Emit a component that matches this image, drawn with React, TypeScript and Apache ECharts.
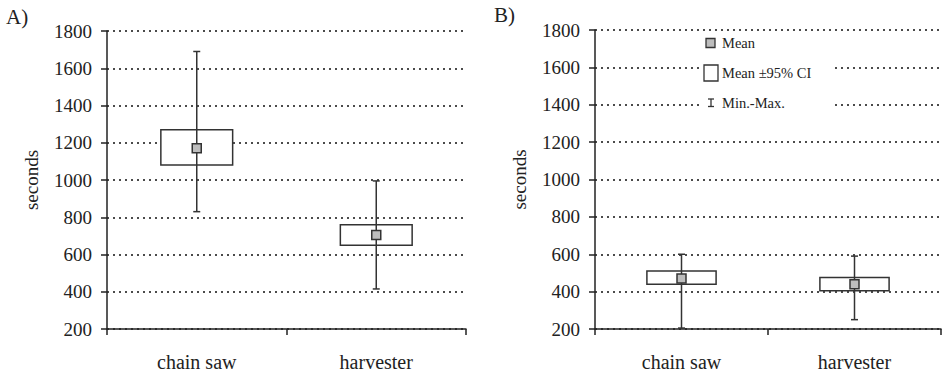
import React, { useEffect, useRef } from "react";
import * as echarts from "echarts";

const categories = ["chain saw", "harvester"];
const yTicks = [200, 400, 600, 800, 1000, 1200, 1400, 1600, 1800];

// Panel A
const aMean = [1170, 705];
const aCiLow = [1080, 650];
const aCiHigh = [1270, 760];
const aMin = [830, 415];
const aMax = [1690, 995];

// Panel B
const bMean = [470, 440];
const bCiLow = [440, 405];
const bCiHigh = [510, 475];
const bMin = [205, 250];
const bMax = [600, 590];

const legendLabels = ["Mean", "Mean ±95% CI", "Min.-Max."];
const panelLabels = ["A)", "B)"];

const SERIF = "Liberation Serif";
const INK = "#222";

function rows(mean: number[], lo: number[], hi: number[], mn: number[], mx: number[]) {
  return categories.map((_, i) => [i, mean[i], lo[i], hi[i], mn[i], mx[i]]);
}

function renderItem(params: any, api: any) {
  const x = api.value(0);
  const pMean = api.coord([x, api.value(1)]);
  const pLo = api.coord([x, api.value(2)]);
  const pHi = api.coord([x, api.value(3)]);
  const pMin = api.coord([x, api.value(4)]);
  const pMax = api.coord([x, api.value(5)]);
  const band = api.size([1, 0])[0];
  const w = band * 0.4;
  const cx = pMean[0];
  const cap = 3.5;
  const st = { stroke: "#333", lineWidth: 1.5 };
  return {
    type: "group",
    children: [
      {
        type: "rect",
        shape: { x: cx - w / 2, y: pHi[1], width: w, height: pLo[1] - pHi[1] },
        style: { fill: "#fff", ...st },
      },
      { type: "line", shape: { x1: cx, y1: pMax[1], x2: cx, y2: pMin[1] }, style: st },
      { type: "line", shape: { x1: cx - cap, y1: pMax[1], x2: cx + cap, y2: pMax[1] }, style: st },
      { type: "line", shape: { x1: cx - cap, y1: pMin[1], x2: cx + cap, y2: pMin[1] }, style: st },
      {
        type: "rect",
        shape: { x: cx - 4.5, y: pMean[1] - 4.5, width: 9, height: 9 },
        style: { fill: "#bdbdbd", ...st },
      },
    ],
  };
}

function yLabelSeries(g: number) {
  return {
    type: "custom",
    xAxisIndex: g,
    yAxisIndex: g,
    silent: true,
    clip: false,
    encode: { x: 0, y: 1 },
    data: yTicks.map((v) => [0, v]),
    renderItem: (params: any, api: any) => {
      const p = api.coord([0, api.value(1)]);
      return {
        type: "text",
        x: params.coordSys.x - 15,
        y: p[1],
        style: {
          text: String(yTicks[params.dataIndex]),
          font: "19px 'Liberation Serif', serif",
          fontSize: 19,
          fontFamily: SERIF,
          fill: INK,
          align: "right",
          verticalAlign: "middle",
        },
      };
    },
  };
}

function xLabelSeries(g: number) {
  return {
    type: "custom",
    xAxisIndex: g,
    yAxisIndex: g,
    silent: true,
    clip: false,
    encode: { x: 0, y: 1 },
    data: categories.map((_, i) => [i, yTicks[0]]),
    renderItem: (params: any, api: any) => {
      const p = api.coord([api.value(0), api.value(1)]);
      return {
        type: "text",
        x: p[0],
        y: params.coordSys.y + params.coordSys.height + 23,
        style: {
          text: categories[params.dataIndex],
          font: "20px 'Liberation Serif', serif",
          fontSize: 20,
          fontFamily: SERIF,
          fill: INK,
          align: "center",
          verticalAlign: "top",
        },
      };
    },
  };
}

export default function App() {
  const ref = useRef<HTMLDivElement>(null);
  useEffect(() => {
    if (!ref.current) return;
    const chart = echarts.init(ref.current, undefined, { renderer: "svg" });
    const xAxis = [0, 1].map((i) => ({
      type: "category",
      gridIndex: i,
      data: categories,
      axisLine: { lineStyle: { color: INK, width: 1.5 } },
      axisTick: { show: true, length: 6, lineStyle: { color: INK, width: 1.5 } },
      axisLabel: { show: false },
      splitLine: { show: false },
    }));
    const yAxis = [0, 1].map((i) => ({
      type: "value",
      gridIndex: i,
      min: yTicks[0],
      max: yTicks[yTicks.length - 1],
      interval: 200,
      name: "seconds",
      nameLocation: "middle",
      nameRotate: 90,
      nameGap: 66,
      nameTextStyle: { fontSize: 19, fontFamily: SERIF, color: INK },
      axisLine: { show: true, lineStyle: { color: INK, width: 1.5 } },
      axisTick: { show: true, length: 6, lineStyle: { color: INK, width: 1.5 } },
      axisLabel: { show: false },
      splitLine: { show: true, lineStyle: { color: "#111", width: 1.5, type: [2, 4] } },
    }));
    const option: any = {
      animation: false,
      textStyle: { fontFamily: SERIF },
      grid: [
        { left: 107, right: 476, top: 31, bottom: 44 },
        { left: 595, right: 1, top: 30, bottom: 44 },
      ],
      xAxis,
      yAxis,
      series: [
        {
          type: "custom",
          xAxisIndex: 0,
          yAxisIndex: 0,
          renderItem,
          encode: { x: 0, y: [1, 2, 3, 4, 5] },
          data: rows(aMean, aCiLow, aCiHigh, aMin, aMax),
        },
        {
          type: "custom",
          xAxisIndex: 1,
          yAxisIndex: 1,
          renderItem,
          encode: { x: 0, y: [1, 2, 3, 4, 5] },
          data: rows(bMean, bCiLow, bCiHigh, bMin, bMax),
        },
        yLabelSeries(0),
        yLabelSeries(1),
        xLabelSeries(0),
        xLabelSeries(1),
      ],
      graphic: [
        {
          type: "text",
          left: 6,
          top: 6,
          style: { text: panelLabels[0], fontSize: 21, fontFamily: SERIF, fill: INK },
        },
        {
          type: "text",
          left: 494,
          top: 4,
          style: { text: panelLabels[1], fontSize: 21, fontFamily: SERIF, fill: INK },
        },
        {
          type: "group",
          children: [
            { type: "rect", shape: { x: 699, y: 36, width: 133, height: 76 }, style: { fill: "#fff" }, z: 10 },
            {
              type: "rect",
              shape: { x: 706, y: 38.5, width: 9, height: 9 },
              style: { fill: "#bdbdbd", stroke: "#333", lineWidth: 1.3 },
              z: 11,
            },
            {
              type: "text",
              x: 722,
              y: 43,
              style: { text: legendLabels[0], fontSize: 14.5, fontFamily: SERIF, fill: INK, verticalAlign: "middle" },
              z: 11,
            },
            {
              type: "rect",
              shape: { x: 704, y: 65, width: 14, height: 16 },
              style: { fill: "#fff", stroke: "#333", lineWidth: 1.3 },
              z: 11,
            },
            {
              type: "text",
              x: 722,
              y: 73,
              style: { text: legendLabels[1], fontSize: 14.5, fontFamily: SERIF, fill: INK, verticalAlign: "middle" },
              z: 11,
            },
            { type: "line", shape: { x1: 711, y1: 99, x2: 711, y2: 106.5 }, style: { stroke: "#333", lineWidth: 1.3 }, z: 11 },
            { type: "line", shape: { x1: 708, y1: 99, x2: 714, y2: 99 }, style: { stroke: "#333", lineWidth: 1.3 }, z: 11 },
            { type: "line", shape: { x1: 708, y1: 106.5, x2: 714, y2: 106.5 }, style: { stroke: "#333", lineWidth: 1.3 }, z: 11 },
            {
              type: "text",
              x: 722,
              y: 103,
              style: { text: legendLabels[2], fontSize: 14.5, fontFamily: SERIF, fill: INK, verticalAlign: "middle" },
              z: 11,
            },
          ],
        },
      ],
    };
    chart.setOption(option);
    return () => chart.dispose();
  }, []);
  return (
    <div
      ref={ref}
      style={{ position: "fixed", left: 0, top: 0, width: 942, height: 373, background: "#fff" }}
    />
  );
}
